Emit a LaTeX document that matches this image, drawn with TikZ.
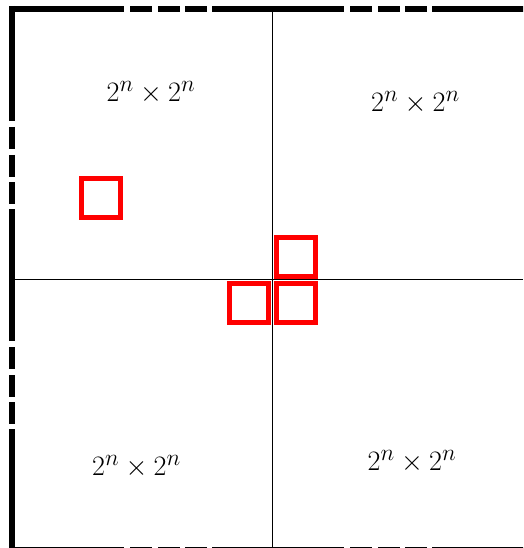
\documentclass[tikz,border=0pt]{standalone}
\usepackage{amsmath}
\begin{document}
\begin{tikzpicture}[x=1pt, y=-1pt,
    every node/.style={align=center},
    sizelabel/.style={font=\Huge, scale=1.13},
    cell/.style={draw=red, line width=5pt, minimum size=39pt, inner sep=0pt},
    board/.style={line width=6pt, dash pattern=on 132pt off 6pt on 22pt off 6pt on 22pt off 5pt on 22pt off 5pt, dash phase=17pt}
]
\useasboundingbox (0,0) rectangle (523,548);
% Board outline (cut off at the right and bottom)
\begin{scope}
\clip (0,0) rectangle (523,548);
\draw[board] (12,6) -- (12,560);
\draw[board] (9,9) -- (530,9);
\draw[board] (9,549.5) -- (530,549.5);
\end{scope}
% Quadrants
\coordinate (top) at (272,12);
\coordinate (bottom) at (272,548);
\coordinate (left) at (15,279);
\coordinate (right) at (523,279);
\draw[line width=0.9pt] (top) -- (bottom);
\draw[line width=0.9pt] (left) -- (right);
% Sizes
\foreach \name/\x/\y in {q1/151/93, q2/415.5/103, q3/136.5/467, q4/412/462} {
    \node[sizelabel] (\name) at (\x,\y) {$2^n \times 2^n$};
}
% Marked cells
\node[cell] (s1) at (101,197.5) {};
\node[cell] (s2) at (296,256.5) {};
\node[cell] (s3) at (248.5,302.5) {};
\node[cell] (s4) at (296,302.5) {};
\end{tikzpicture}
\end{document}
